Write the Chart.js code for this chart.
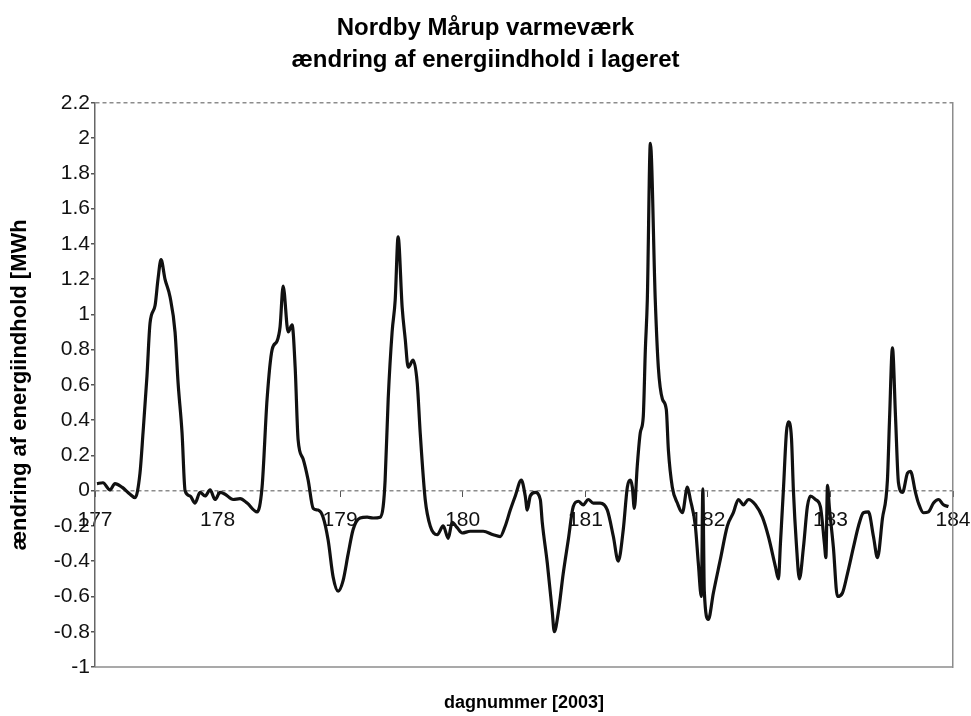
<!DOCTYPE html>
<html>
<head>
<meta charset="utf-8">
<title>Nordby Mårup varmeværk</title>
<script src="https://cdn.jsdelivr.net/npm/chart.js@4.4.0/dist/chart.umd.min.js"></script>
<style>
    html, body { margin: 0; padding: 0; background: #fff; }
    #wrap { width: 971px; height: 716px; }
</style>
</head>
<body>
<div id="wrap"><canvas id="storageChart"></canvas></div>
<script>
// day number (2003) and change of energy content in the store [MWh]
const days = [
    177.016, 177.065, 177.122, 177.163, 177.220, 177.286, 177.327, 177.367, 177.392, 177.424,
    177.449, 177.490, 177.514, 177.539, 177.571, 177.612, 177.653, 177.678, 177.710, 177.735,
    177.776, 177.816, 177.857, 177.898, 177.939, 177.980, 178.020, 178.061, 178.127, 178.184,
    178.241, 178.322, 178.363, 178.404, 178.445, 178.486, 178.510, 178.535, 178.576, 178.608,
    178.633, 178.657, 178.698, 178.739, 178.780, 178.820, 178.861, 178.902, 178.943, 178.984,
    179.024, 179.065, 179.106, 179.163, 179.220, 179.269, 179.327, 179.351, 179.367, 179.392,
    179.424, 179.449, 179.473, 179.506, 179.531, 179.555, 179.596, 179.629, 179.653, 179.694,
    179.735, 179.792, 179.841, 179.882, 179.914, 179.955, 179.996, 180.061, 180.118, 180.167,
    180.249, 180.306, 180.347, 180.388, 180.429, 180.478, 180.510, 180.527, 180.551, 180.592,
    180.633, 180.649, 180.690, 180.731, 180.747, 180.780, 180.820, 180.861, 180.902, 180.943,
    180.984, 181.024, 181.065, 181.122, 181.180, 181.229, 181.269, 181.310, 181.343, 181.367,
    181.384, 181.400, 181.424, 181.449, 181.473, 181.490, 181.506, 181.531, 181.571, 181.596,
    181.629, 181.661, 181.678, 181.710, 181.751, 181.792, 181.833, 181.857, 181.898, 181.922,
    181.947, 181.959, 181.971, 182.004, 182.045, 182.102, 182.159, 182.208, 182.249, 182.290,
    182.331, 182.388, 182.445, 182.494, 182.551, 182.576, 182.592, 182.616, 182.641, 182.657,
    182.682, 182.698, 182.722, 182.747, 182.780, 182.812, 182.837, 182.878, 182.918, 182.951,
    182.963, 182.976, 182.992, 183.024, 183.057, 183.098, 183.139, 183.188, 183.229, 183.269,
    183.310, 183.351, 183.384, 183.424, 183.465, 183.482, 183.506, 183.531, 183.555, 183.588,
    183.629, 183.653, 183.694, 183.718, 183.759, 183.800, 183.841, 183.882, 183.922, 183.963
];
const energyChange = [
    0.04, 0.045, 0.005, 0.04, 0.02, -0.02, -0.04, 0.10, 0.33, 0.65,
    0.95, 1.05, 1.20, 1.31, 1.20, 1.10, 0.90, 0.61, 0.33, 0.00,
    -0.03, -0.07, -0.01, -0.03, 0.005, -0.05, -0.01, -0.02, -0.05, -0.045,
    -0.07, -0.12, 0.02, 0.52, 0.80, 0.85, 0.93, 1.16, 0.90, 0.94,
    0.70, 0.29, 0.18, 0.06, -0.10, -0.11, -0.15, -0.28, -0.49, -0.57,
    -0.51, -0.36, -0.22, -0.155, -0.15, -0.155, -0.15, -0.09, 0.06, 0.52,
    0.90, 1.08, 1.44, 1.04, 0.86, 0.70, 0.74, 0.61, 0.33, -0.05,
    -0.20, -0.25, -0.20, -0.27, -0.18, -0.21, -0.24, -0.23, -0.23, -0.23,
    -0.25, -0.26, -0.20, -0.11, -0.03, 0.06, -0.03, -0.11, -0.03, -0.01,
    -0.05, -0.18, -0.41, -0.69, -0.80, -0.69, -0.47, -0.28, -0.09, -0.06,
    -0.08, -0.05, -0.07, -0.07, -0.11, -0.26, -0.40, -0.22, 0.02, 0.06,
    0.02, -0.10, 0.14, 0.33, 0.42, 0.80, 1.08, 1.97, 1.08, 0.70,
    0.52, 0.46, 0.23, 0.02, -0.07, -0.125, 0.02, -0.05, -0.20, -0.41,
    -0.60, 0.01, -0.57, -0.73, -0.58, -0.39, -0.20, -0.125, -0.05, -0.08,
    -0.05, -0.08, -0.15, -0.26, -0.43, -0.50, -0.30, 0.00, 0.33, 0.39,
    0.30, 0.00, -0.30, -0.50, -0.32, -0.09, -0.03, -0.05, -0.09, -0.30,
    -0.38, 0.03, -0.10, -0.32, -0.60, -0.58, -0.47, -0.32, -0.20, -0.125,
    -0.12, -0.26, -0.38, -0.16, 0.06, 0.40, 0.81, 0.42, 0.045, -0.01,
    0.10, 0.11, -0.01, -0.07, -0.125, -0.12, -0.07, -0.05, -0.08, -0.09
];
const dayTicks = [177, 178, 179, 180, 181, 182, 183, 184];
const energyTicks = [-1, -0.8, -0.6, -0.4, -0.2, 0, 0.2, 0.4, 0.6, 0.8, 1, 1.2, 1.4, 1.6, 1.8, 2, 2.2];

const FONT = "'Liberation Sans', Arial, sans-serif";
const points = days.map((d, i) => ({ x: d, y: energyChange[i] }));

// gray frame line along the bottom of the plot area
const framePlugin = {
    id: "frame",
    beforeDatasetsDraw(chart) {
        const { ctx, chartArea: a } = chart;
        ctx.save();
        ctx.strokeStyle = "#8c8c8c";
        ctx.lineWidth = 1.5;
        ctx.beginPath();
        ctx.moveTo(a.left, a.bottom);
        ctx.lineTo(a.right, a.bottom);
        ctx.stroke();
        ctx.restore();
    }
};

new Chart(document.getElementById("storageChart"), {
    type: "line",
    data: {
        datasets: [{
            data: points,
            borderColor: "#111",
            borderWidth: 3.2,
            pointRadius: 0,
            fill: false,
            cubicInterpolationMode: "monotone"
        }]
    },
    options: {
        responsive: true,
        maintainAspectRatio: false,
        animation: false,
        layout: { padding: 0 },
        plugins: {
            legend: { display: false },
            tooltip: { enabled: false },
            title: {
                display: true,
                text: ["Nordby Mårup varmeværk", "ændring af energiindhold i lageret"],
                color: "#000",
                font: { family: FONT, size: 24, weight: "bold", lineHeight: 1.35 },
                padding: { top: 12, bottom: 26 }
            }
        },
        scales: {
            x: {
                type: "linear",
                min: 177,
                max: 184,
                position: { y: 0 },
                afterBuildTicks: axis => { axis.ticks = dayTicks.map(v => ({ value: v })); },
                afterFit: axis => { axis.paddingLeft = 0; axis.paddingRight = 0; },
                ticks: {
                    color: "#111",
                    font: { family: FONT, size: 21 },
                    padding: 11,
                    maxRotation: 0
                },
                grid: { drawOnChartArea: false, drawTicks: true, tickLength: 6, tickColor: "#555" },
                border: { display: false }
            },
            xFrame: {
                type: "linear",
                axis: "x",
                position: "bottom",
                min: 177,
                max: 184,
                ticks: { display: false },
                grid: { display: false, drawTicks: false },
                border: { display: false },
                title: {
                    display: true,
                    text: "dagnummer [2003]",
                    color: "#000",
                    font: { family: FONT, size: 18, weight: "bold" },
                    padding: { top: 20, bottom: 2 }
                },
                afterFit: axis => { axis.height = 49; axis.paddingLeft = 0; axis.paddingRight = 0; }
            },
            y: {
                type: "linear",
                min: -1,
                max: 2.2,
                afterBuildTicks: axis => { axis.ticks = energyTicks.map(v => ({ value: v })); },
                ticks: {
                    color: "#111",
                    font: { family: FONT, size: 21 },
                    padding: 1,
                    callback: v => String(Number(v.toFixed(1)))
                },
                grid: {
                    color: c => (c.tick && (c.tick.value === 0 || c.tick.value === 2.2)) ? "#8c8c8c" : "rgba(0,0,0,0)",
                    lineWidth: 1.5,
                    drawTicks: true,
                    tickLength: 4,
                    tickColor: "#555"
                },
                border: { display: true, color: "#666", width: 1.5, dash: [4, 3] },
                title: {
                    display: true,
                    text: "ændring af energiindhold [MWh",
                    color: "#000",
                    font: { family: FONT, size: 22, weight: "bold" },
                    padding: { top: 7, bottom: 4 }
                },
                afterFit: axis => { axis.width = 95; }
            },
            yFrame: {
                type: "linear",
                axis: "y",
                position: "right",
                min: -1,
                max: 2.2,
                ticks: { display: false },
                grid: { display: false, drawTicks: false },
                border: { display: true, color: "#8c8c8c", width: 1.5 },
                afterFit: axis => { axis.width = 18; axis.paddingTop = 0; axis.paddingBottom = 0; }
            }
        }
    },
    plugins: [framePlugin]
});
</script>
</body>
</html>
